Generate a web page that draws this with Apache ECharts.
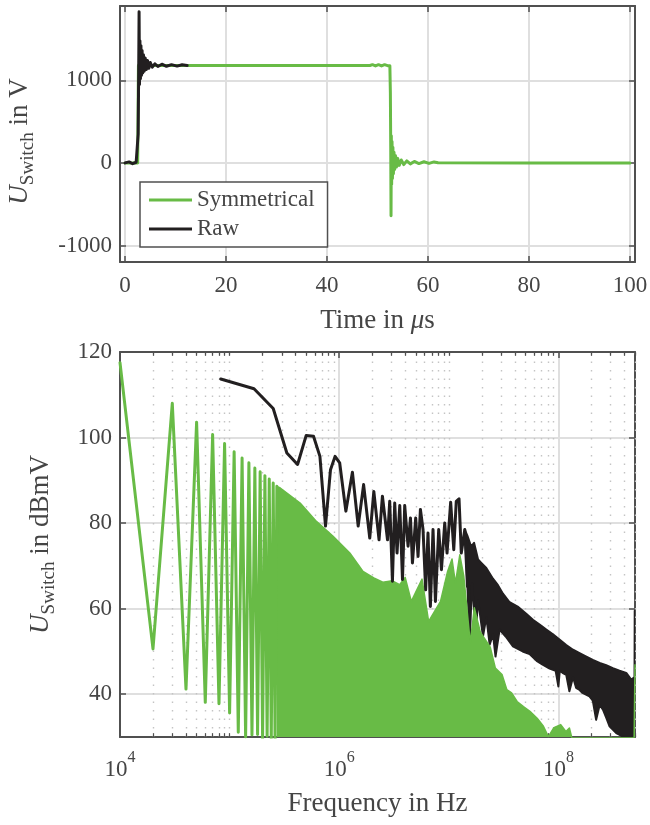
<!DOCTYPE html>
<html>
<head>
<meta charset="utf-8">
<style>
  html, body { margin: 0; padding: 0; background: #fff; }
  #chart { width: 650px; height: 825px; }
</style>
<script src="https://cdn.jsdelivr.net/npm/echarts@6/dist/echarts.min.js"></script>
</head>
<body>
<div id="chart"></div>
<script>
// Switching voltage, time domain: [t in µs, U in V]
const rawTime = [
  [0, 0], [0.8, 12], [1.5, -10], [2.2, 8], [2.5, 0], [2.6, 350], [2.7, 1100], [2.78, 1830],
  [2.86, 950], [2.95, 1480], [3.05, 1020], [3.15, 1420], [3.25, 1060], [3.38, 1360], [3.5, 1090],
  [3.65, 1310], [3.8, 1110], [4.0, 1270], [4.2, 1130], [4.45, 1240], [4.7, 1145], [5.0, 1215],
  [5.4, 1160], [5.9, 1200], [6.5, 1168], [7.3, 1195], [8.2, 1170], [9.2, 1190], [10.3, 1172],
  [11.3, 1188], [12.3, 1180]
];
const symTime = [
  [0, 0], [2.5, 0], [2.65, 1180], [12.3, 1180], [30, 1180], [48.5, 1180], [49, 1190], [49.6, 1175],
  [50.2, 1190], [50.8, 1175], [51.4, 1190], [52.0, 1177], [52.3, 1188],
  [52.45, 1175], [52.55, 850], [52.62, 200], [52.68, -640], [52.74, 330], [52.8, -260], [52.88, 260],
  [52.96, -190], [53.05, 190], [53.15, -130], [53.27, 130], [53.4, -80], [53.55, 90], [53.75, -50],
  [54.0, 55], [54.3, -30], [54.7, 35], [55.2, -20], [55.8, 25], [56.5, -12], [57.3, 18], [58.2, -8],
  [59.2, 14], [60.2, -6], [61.2, 12], [62, 2], [80, 0], [100, 0]
];

// Spectrum: [f in Hz, U in dBmV]
const symSpecLow = [
  [1e4, 117.5], [2e4, 50.6], [3e4, 108.0], [4e4, 41.2], [5e4, 103.6], [6e4, 38.1], [7e4, 100.7],
  [8e4, 37.8], [9e4, 98.6], [1e5, 35.6], [1.1e5, 96.7], [1.2e5, 31.1], [1.3e5, 95.2], [1.4e5, 30.0],
  [1.5e5, 94.1], [1.6e5, 30.5], [1.7e5, 92.9], [1.8e5, 30.6], [1.9e5, 92.0], [2e5, 29.5],
  [2.1e5, 91.1], [2.2e5, 30.2], [2.3e5, 90.3], [2.4e5, 29.0], [2.5e5, 89.4], [2.6e5, 29.0], [2.7e5, 88.6]
];
// dense part above ~270 kHz: upper envelope of the symmetrical spectrum
const symSpecEnv = [
  [2.7e5, 88.6], [2.9e5, 88.2], [4.4e5, 84.7], [6.2e5, 80.4], [8.8e5, 76.9], [1.25e6, 73.0],
  [1.65e6, 68.7], [2.07e6, 67.2], [2.5e6, 66.2], [3.06e6, 66.5], [3.56e6, 65.6], [4.0e6, 67.3],
  [4.55e6, 61.7], [5.7e6, 66.9], [6.55e6, 57.0], [8.4e6, 61.7], [9.75e6, 68.7], [1.07e7, 71.6],
  [1.15e7, 66.0], [1.26e7, 72.6], [1.37e7, 67.6], [1.57e7, 52.0], [1.71e7, 60.2], [1.94e7, 54.5],
  [2.39e7, 51.0], [2.66e7, 46.1], [3.06e7, 44.6], [3.38e7, 41.1], [3.74e7, 40.3], [4.2e7, 38.3],
  [4.8e7, 37.1], [5.5e7, 36.0], [6.4e7, 34.4], [7.3e7, 32.5], [8.1e7, 30.1], [9.1e7, 32.2],
  [1.05e8, 32.9], [1.17e8, 31.3], [1.26e8, 32.1], [1.35e8, 29.0], [4.9e8, 28.0], [5.0e8, 47.0]
];
// raw spectrum, resolved part (up to ~15 MHz)
const rawSpec = [
  [8.3e4, 113.7], [1.67e5, 111.4], [2.5e5, 106.8], [3.33e5, 96.4], [4.17e5, 93.7], [5.0e5, 100.5],
  [5.83e5, 100.3], [6.67e5, 95.6], [7.5e5, 79.3], [8.33e5, 92.5], [9.17e5, 95.6], [1.01e6, 94.1],
  [1.15e6, 82.8], [1.32e6, 91.9], [1.49e6, 79.3], [1.67e6, 89.0], [1.90e6, 76.5], [2.07e6, 87.4],
  [2.31e6, 76.1], [2.48e6, 86.3], [2.76e6, 76.1], [2.89e6, 85.1], [3.06e6, 66.4], [3.21e6, 84.7],
  [3.37e6, 73.0], [3.57e6, 84.1], [3.78e6, 66.8], [3.96e6, 84.1], [4.25e6, 74.6], [4.47e6, 81.2],
  [4.66e6, 70.7], [4.99e6, 81.2], [5.24e6, 72.2], [5.51e6, 83.2], [5.82e6, 78.5], [6.15e6, 64.4],
  [6.46e6, 77.7], [6.79e6, 60.5], [7.18e6, 78.5], [7.55e6, 61.7], [8.09e6, 78.5], [8.57e6, 69.1],
  [9.18e6, 80.0], [9.64e6, 73.0], [1.04e7, 84.9], [1.11e7, 73.8], [1.17e7, 85.1], [1.24e7, 85.7],
  [1.30e7, 73.0], [1.40e7, 78.5], [1.48e7, 65.2]
];
// raw spectrum, dense part: upper and lower edge of the band
const rawBandUpper = [
  [1.40e7, 78.5], [1.48e7, 77.0], [1.6e7, 74.5], [1.70e7, 75.4], [1.85e7, 71.5], [1.98e7, 70.7],
  [2.20e7, 69.5], [2.53e7, 67.0], [2.81e7, 65.5], [3.12e7, 63.5], [3.59e7, 61.5], [4.25e7, 60.5],
  [5.09e7, 58.8], [5.86e7, 57.4], [6.74e7, 56.3], [7.76e7, 55.1], [8.92e7, 54.0], [1.03e8, 52.7],
  [1.18e8, 51.5], [1.36e8, 50.4], [1.56e8, 49.6], [1.80e8, 48.8], [2.06e8, 48.0], [2.38e8, 47.3],
  [2.73e8, 46.8], [3.14e8, 46.1], [3.61e8, 45.5], [4.16e8, 45.0], [4.62e8, 43.4], [4.95e8, 44.0],
  [4.97e8, 59.5], [5.0e8, 59.5]
];
const rawBandLower = [
  [1.40e7, 78.5], [1.48e7, 65.2], [1.55e7, 52.0], [1.63e7, 66.0], [1.76e7, 54.3], [1.85e7, 62.0],
  [2.05e7, 53.5], [2.20e7, 58.0], [2.36e7, 51.6], [2.53e7, 54.0], [2.67e7, 48.8], [2.91e7, 55.1],
  [3.30e7, 53.5], [3.85e7, 51.2], [4.72e7, 50.0], [5.46e7, 49.4], [6.33e7, 47.8], [7.18e7, 46.9],
  [8.32e7, 46.0], [9.43e7, 45.5], [1.00e8, 41.8], [1.03e8, 45.5], [1.09e8, 45.0], [1.18e8, 44.5],
  [1.26e8, 40.7], [1.36e8, 44.0], [1.45e8, 41.5], [1.56e8, 41.0], [1.66e8, 40.3], [1.92e8, 39.5],
  [2.06e8, 38.5], [2.21e8, 34.0], [2.38e8, 37.5], [2.55e8, 36.4], [2.73e8, 34.5], [2.93e8, 32.5],
  [3.37e8, 30.9], [3.87e8, 30.1], [4.46e8, 28.5], [4.95e8, 28.0], [5.0e8, 28.0]
];

const timeTicks = [0, 20, 40, 60, 80, 100];
const voltTicks = [-1000, 0, 1000];
const levelTicks = [40, 60, 80, 100, 120];

const GREEN = '#68bb46';
const BLACK = '#221f20';
const FRAME = '#505050';
const TEXT = '#454545';
const FONT = 'Liberation Serif';

// minor log grid positions (2..9 x 10^n, plus the unlabelled decades)
const minorFreq = [];
for (let e = 4; e <= 8; e++) {
  for (let k = 1; k <= 9; k++) {
    const f = k * Math.pow(10, e);
    if (f > 5e8) break;
    if (k === 1 && e % 2 === 0) continue;
    minorFreq.push(f);
  }
}
const minorLines = [];
minorFreq.forEach(f => {
  minorLines.push({ xAxis: f, lineStyle: { color: '#c4c4c4', width: 1.4, type: [1.5, 7] } });
  minorLines.push([{ coord: [f, 30] }, { coord: [f, 30.9], lineStyle: { color: FRAME, width: 1.2, type: 'solid' } }]);
  minorLines.push([{ coord: [f, 120] }, { coord: [f, 119.1], lineStyle: { color: FRAME, width: 1.2, type: 'solid' } }]);
});

const frameLine = { show: true, onZero: false, lineStyle: { color: FRAME, width: 2 } };
const tick = (vals) => ({ show: true, inside: true, length: 6, customValues: vals, lineStyle: { color: FRAME, width: 1.5 } });
const gridLine = { show: true, lineStyle: { color: '#dfdfdf', width: 2 } };
const tickFont = { fontFamily: FONT, fontSize: 23, color: TEXT, lineHeight: 23 };

const chart = echarts.init(document.getElementById('chart'));

chart.setOption({
  animation: false,
  backgroundColor: '#fff',
  grid: [
    { left: 120, top: 6, width: 515, height: 256, outerBoundsMode: 'none' },
    { left: 120, top: 352, width: 515, height: 385, outerBoundsMode: 'none' }
  ],
  legend: {
    left: 140, top: 182, orient: 'vertical',
    data: ['Symmetrical', 'Raw'],
    icon: 'rect', itemWidth: 43, itemHeight: 3, itemGap: 3,
    padding: [5, 13, 5, 9],
    borderColor: FRAME, borderWidth: 1.5, backgroundColor: '#fff',
    selectedMode: false,
    textStyle: { fontFamily: FONT, fontSize: 23, color: TEXT, lineHeight: 26 }
  },
  xAxis: [
    {
      gridIndex: 0, type: 'value', position: 'bottom', min: -1, max: 101,
      axisLine: frameLine, axisTick: tick(timeTicks),
      axisLabel: Object.assign({ customValues: timeTicks, margin: 12 }, tickFont),
      splitLine: gridLine,
      name: '{n|Time in }{m|\u03bc}{n|s}', nameLocation: 'middle', nameGap: 45, nameMoveOverlap: false,
      nameTextStyle: { rich: {
        n: { fontFamily: FONT, fontSize: 27, color: TEXT, lineHeight: 27 },
        m: { fontFamily: FONT, fontSize: 27, color: TEXT, lineHeight: 27, fontStyle: 'italic' }
      } }
    },
    {
      gridIndex: 0, type: 'value', position: 'top', min: -1, max: 101,
      axisLine: frameLine, axisTick: tick(timeTicks),
      axisLabel: { show: false }, splitLine: { show: false }
    },
    {
      gridIndex: 1, type: 'log', logBase: 10, position: 'bottom', min: 1e4, max: 5e8, interval: 2,
      axisLine: frameLine,
      axisTick: { show: true, inside: true, length: 6, lineStyle: { color: FRAME, width: 1.5 } },
      axisLabel: {
        margin: 13, showMaxLabel: false,
        formatter: v => {
          const e = Math.round(Math.log10(v));
          if (Math.abs(Math.pow(10, e) - v) / v > 0.01) return '';
          return '{b|10}{s|' + e + '}';
        },
        rich: {
          b: { fontFamily: FONT, fontSize: 23, color: TEXT, lineHeight: 40 },
          s: { fontFamily: FONT, fontSize: 16, color: TEXT, lineHeight: 14, verticalAlign: 'top' }
        }
      },
      splitLine: gridLine,
      name: 'Frequency in Hz', nameLocation: 'middle', nameGap: 53, nameMoveOverlap: false,
      nameTextStyle: { fontFamily: FONT, fontSize: 27, color: TEXT, lineHeight: 27 }
    },
    {
      gridIndex: 1, type: 'log', logBase: 10, position: 'top', min: 1e4, max: 5e8, interval: 2,
      axisLine: frameLine,
      axisTick: { show: true, inside: true, length: 6, lineStyle: { color: FRAME, width: 1.5 } },
      axisLabel: { show: false }, splitLine: { show: false }
    }
  ],
  yAxis: [
    {
      gridIndex: 0, type: 'value', position: 'left', min: -1200, max: 1900,
      axisLine: frameLine, axisTick: tick(voltTicks),
      axisLabel: Object.assign({ customValues: voltTicks, margin: 8, formatter: v => String(v) }, tickFont),
      splitLine: gridLine,
      name: '{u|U}{s|Switch}{n| in V}', nameLocation: 'middle', nameRotate: 90, nameGap: 82,
      nameMoveOverlap: false,
      nameTextStyle: { rich: {
        u: { fontFamily: FONT, fontSize: 27, color: TEXT, lineHeight: 36, fontStyle: 'italic' },
        s: { fontFamily: FONT, fontSize: 19, color: TEXT, lineHeight: 4, verticalAlign: 'bottom' },
        n: { fontFamily: FONT, fontSize: 27, color: TEXT, lineHeight: 36, padding: [0, 15, 0, 0] }
      } }
    },
    {
      gridIndex: 0, type: 'value', position: 'right', min: -1200, max: 1900,
      axisLine: frameLine, axisTick: tick(voltTicks),
      axisLabel: { show: false }, splitLine: { show: false }
    },
    {
      gridIndex: 1, type: 'value', position: 'left', min: 30, max: 120,
      axisLine: frameLine, axisTick: tick(levelTicks),
      axisLabel: Object.assign({ customValues: levelTicks, margin: 8 }, tickFont),
      splitLine: gridLine,
      name: '{u|U}{s|Switch}{n| in dBmV}', nameLocation: 'middle', nameRotate: 90, nameGap: 61,
      nameMoveOverlap: false,
      nameTextStyle: { rich: {
        u: { fontFamily: FONT, fontSize: 27, color: TEXT, lineHeight: 36, fontStyle: 'italic' },
        s: { fontFamily: FONT, fontSize: 19, color: TEXT, lineHeight: 4, verticalAlign: 'bottom' },
        n: { fontFamily: FONT, fontSize: 27, color: TEXT, lineHeight: 36 }
      } }
    },
    {
      gridIndex: 1, type: 'value', position: 'right', min: 30, max: 120,
      axisLine: frameLine, axisTick: tick(levelTicks),
      axisLabel: { show: false }, splitLine: { show: false }
    }
  ],
  series: [
    {
      name: 'Symmetrical', type: 'line', xAxisIndex: 0, yAxisIndex: 0, data: symTime,
      symbol: 'none', itemStyle: { color: GREEN },
      lineStyle: { color: GREEN, width: 3, cap: 'round', join: 'round' }
    },
    {
      name: 'Raw', type: 'line', xAxisIndex: 0, yAxisIndex: 0, data: rawTime,
      symbol: 'none', itemStyle: { color: BLACK },
      lineStyle: { color: BLACK, width: 3, cap: 'round', join: 'round' }
    },
    {
      name: 'Symmetrical', type: 'line', xAxisIndex: 2, yAxisIndex: 2, data: symSpecLow,
      symbol: 'none', itemStyle: { color: GREEN },
      lineStyle: { color: GREEN, width: 3, cap: 'round', join: 'round' },
      markLine: { z: 1, silent: true, symbol: 'none', animation: false, label: { show: false }, data: minorLines }
    },
    {
      name: 'Symmetrical', type: 'line', xAxisIndex: 2, yAxisIndex: 2, data: symSpecEnv,
      symbol: 'none', itemStyle: { color: GREEN },
      lineStyle: { color: GREEN, width: 1.5, join: 'round' },
      areaStyle: { color: GREEN, opacity: 1, origin: 'start' }
    },
    {
      name: 'Raw', type: 'line', xAxisIndex: 2, yAxisIndex: 2, data: rawSpec,
      symbol: 'none', itemStyle: { color: BLACK },
      lineStyle: { color: BLACK, width: 3, cap: 'round', join: 'round' }
    },
    {
      // dense band of the raw spectrum, outlined from its upper and lower edges
      name: 'Raw', type: 'custom', xAxisIndex: 2, yAxisIndex: 2, clip: true,
      data: rawBandUpper,
      renderItem: (params, api) => {
        if (params.dataIndex !== 0) return null;
        const pts = rawBandUpper.map(p => api.coord(p))
          .concat(rawBandLower.slice().reverse().map(p => api.coord(p)));
        return {
          type: 'polygon', shape: { points: pts },
          style: { fill: BLACK, stroke: BLACK, lineWidth: 2, lineJoin: 'round' }
        };
      }
    }
  ]
});
</script>
</body>
</html>
